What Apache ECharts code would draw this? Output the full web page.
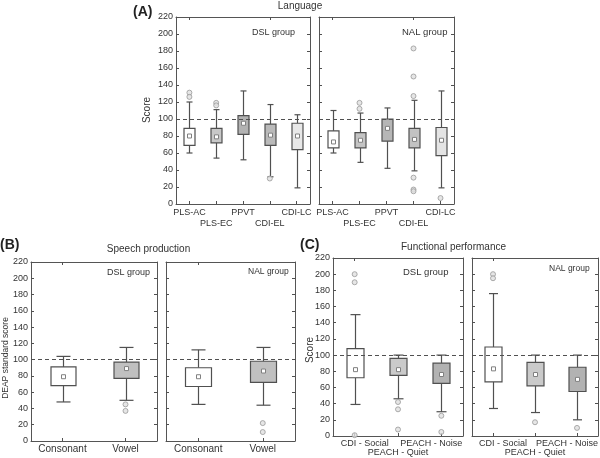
<!DOCTYPE html>
<html><head><meta charset="utf-8">
<script src="https://cdn.jsdelivr.net/npm/echarts@6/dist/echarts.min.js"></script>
<style>html,body{margin:0;padding:0;background:#fff}#c{width:600px;height:458px}</style>
</head><body><div id="c"></div>
<script>
// ---------- DATA ----------
const yMin = 0, yMax = 220, yStep = 20;
const catsA = ['PLS-AC', 'PLS-EC', 'PPVT', 'CDI-EL', 'CDI-LC'];
// [whisker low, Q1, median, Q3, whisker high]
const aDslBoxes = [[60, 69, 80, 89, 120], [54, 72, 79, 89, 111], [52, 82, 95, 104, 133], [32, 69, 81, 94, 117], [19, 64, 80, 95, 105]];
const aDslOutliers = [[0, 131], [0, 126], [1, 119], [1, 116], [3, 30]];
const aNalBoxes = [[60, 66, 73, 86, 110], [49, 66, 75, 84, 107], [42, 74, 89, 100, 113], [39, 66, 76, 89, 122], [19, 57, 75, 90, 133]];
const aNalOutliers = [[1, 119], [1, 112], [3, 183], [3, 150], [3, 127], [3, 31], [3, 17], [3, 15], [4, 7]];

const catsB = ['Consonant', 'Vowel'];
const bDslBoxes = [[48, 68, 79, 91, 104], [50, 77, 89, 97, 115]];
const bDslOutliers = [[1, 45], [1, 37]];
const bNalBoxes = [[45, 67, 79, 90, 112], [44, 72, 86, 98, 115]];
const bNalOutliers = [[1, 22], [1, 11]];

const catsC = ['CDI - Social', 'PEACH - Quiet', 'PEACH - Noise'];
const cDslBoxes = [[39, 72, 82, 108, 150], [46, 75, 82, 96, 100], [30, 65, 76, 90, 100]];
const cDslOutliers = [[0, 200], [0, 190], [0, 1], [1, 42], [1, 33], [1, 8], [2, 25], [2, 5]];
const cNalBoxes = [[34, 67, 83, 110, 176], [29, 62, 76, 91, 100], [20, 55, 70, 85, 100]];
const cNalOutliers = [[0, 200], [0, 195], [1, 17], [2, 10]];

const refLine = 100;

// ---------- STYLE ----------
const FONT = 'Liberation Sans, Arial, sans-serif';
const TXT = '#333';
const LINE = '#505050';
const fillsA1 = ['#ffffff', '#c8c8c8', '#b2b2b2', '#bababa', '#e8e8e8'];
const fillsA2 = ['#ffffff', '#c4c4c4', '#b6b6b6', '#c2c2c2', '#e4e4e4'];
const fillsB = ['#ffffff', '#c0c0c0'];
const fillsC = ['#ffffff', '#cacaca', '#b2b2b2'];

const panels = [
  {grid: {left: 176, top: 17, width: 134, height: 187}, cats: catsA, boxes: aDslBoxes, outs: aDslOutliers, fills: fillsA1, yLab: true, fs: 9, lh: 11, margin: 3, stagger: true, shift: 0},
  {grid: {left: 319, top: 17, width: 135, height: 187}, cats: catsA, boxes: aNalBoxes, outs: aNalOutliers, fills: fillsA2, yLab: false, fs: 9, lh: 11, margin: 3, stagger: true, shift: 0},
  {grid: {left: 31, top: 262, width: 126, height: 179}, cats: catsB, boxes: bDslBoxes, outs: bDslOutliers, fills: fillsB, yLab: true, fs: 10, lh: 12, margin: 2, stagger: false, shift: 0},
  {grid: {left: 166, top: 262, width: 129, height: 179}, cats: catsB, boxes: bNalBoxes, outs: bNalOutliers, fills: fillsB, yLab: false, fs: 10, lh: 12, margin: 2, stagger: false, shift: 0},
  {grid: {left: 333, top: 258, width: 130, height: 178}, cats: catsC, boxes: cDslBoxes, outs: cDslOutliers, fills: fillsC, yLab: true, fs: 9, lh: 9.5, margin: 2.5, stagger: true, shift: 20},
  {grid: {left: 472, top: 258, width: 126, height: 178}, cats: catsC, boxes: cNalBoxes, outs: cNalOutliers, fills: fillsC, yLab: false, fs: 9, lh: 9.5, margin: 2.5, stagger: true, shift: 20}
];

function makeRender(fills) {
  return function (params, api) {
    const ci = api.value(0);
    const lo = api.coord([ci, api.value(1)]);
    const q1 = api.coord([ci, api.value(2)]);
    const md = api.coord([ci, api.value(3)]);
    const q3 = api.coord([ci, api.value(4)]);
    const hi = api.coord([ci, api.value(5)]);
    const band = api.size([1, 0])[0];
    const bw = Math.round(band * 0.4), cw = Math.round(band * 0.22);
    const x = Math.round(lo[0]) + 0.5;
    const st = {stroke: LINE, lineWidth: 1.2};
    return {type: 'group', children: [
      {type: 'line', shape: {x1: x, y1: hi[1], x2: x, y2: q3[1]}, style: st},
      {type: 'line', shape: {x1: x, y1: q1[1], x2: x, y2: lo[1]}, style: st},
      {type: 'line', shape: {x1: x - cw / 2, y1: hi[1], x2: x + cw / 2, y2: hi[1]}, style: st},
      {type: 'line', shape: {x1: x - cw / 2, y1: lo[1], x2: x + cw / 2, y2: lo[1]}, style: st},
      {type: 'rect', shape: {x: x - bw / 2, y: q3[1], width: bw, height: q1[1] - q3[1]}, style: {fill: fills[params.dataIndex], stroke: LINE, lineWidth: 1.2}},
      {type: 'rect', shape: {x: x - 2, y: md[1] - 2, width: 4, height: 4}, style: {fill: '#fff', stroke: '#808080', lineWidth: 1}}
    ]};
  };
}

const grid = [], xAxis = [], yAxis = [], series = [];
panels.forEach(function (p, i) {
  grid.push(Object.assign({containLabel: false, outerBoundsMode: 'none'}, p.grid));
  const tick = {show: true, inside: true, length: 3, alignWithLabel: true, lineStyle: {color: LINE}};
  const axl = {show: true, onZero: false, lineStyle: {color: '#555', width: 1}};
  const base = {fontFamily: FONT, fontSize: p.fs, color: TXT, lineHeight: p.lh};
  const n = p.cats.length;
  xAxis.push({type: 'category', gridIndex: i, position: 'bottom', data: p.cats, boundaryGap: true,
    axisLine: axl, axisTick: tick, splitLine: {show: false},
    axisLabel: {interval: 0, margin: p.margin, color: TXT, fontFamily: FONT, fontSize: p.fs, lineHeight: p.lh, verticalAlign: 'top',
      hideOverlap: false,
      rich: {
        m: base,
        l: Object.assign({padding: [0, 0, 0, p.shift]}, base),
        r: Object.assign({padding: [0, p.shift, 0, 0]}, base)
      },
      formatter: function (v, idx) {
        let key = 'm';
        if (p.shift && idx === 0) key = 'l';
        if (p.shift && idx === n - 1) key = 'r';
        const t = '{' + key + '|' + v + '}';
        return (p.stagger && idx % 2 === 1) ? '\n' + t : t;
      }}});
  xAxis.push({type: 'category', gridIndex: i, position: 'top', data: p.cats, boundaryGap: true,
    axisLine: axl, axisTick: tick, axisLabel: {show: false}, splitLine: {show: false}});
  const ytick = {show: true, inside: true, length: 3, lineStyle: {color: LINE}};
  yAxis.push({type: 'value', gridIndex: i, position: 'left', min: yMin, max: yMax, interval: yStep,
    axisLine: axl, axisTick: ytick, splitLine: {show: false},
    axisLabel: {show: p.yLab, margin: 3, color: TXT, fontFamily: FONT, fontSize: 9}});
  yAxis.push({type: 'value', gridIndex: i, position: 'right', min: yMin, max: yMax, interval: yStep,
    axisLine: axl, axisTick: ytick, splitLine: {show: false}, axisLabel: {show: false}});
  series.push({type: 'custom', xAxisIndex: 2 * i, yAxisIndex: 2 * i, renderItem: makeRender(p.fills),
    encode: {x: 0, y: [1, 2, 3, 4, 5]},
    data: p.boxes.map(function (b, k) { return [k].concat(b); }), z: 3});
  series.push({type: 'scatter', xAxisIndex: 2 * i, yAxisIndex: 2 * i, data: p.outs,
    symbol: 'circle', symbolSize: 5, z: 4,
    itemStyle: {color: '#e0e0e0', borderColor: '#999', borderWidth: 1},
    markLine: {silent: true, symbol: 'none', label: {show: false}, animation: false,
      lineStyle: {type: [4, 3], color: '#505050', width: 1}, data: [{yAxis: refLine}]}});
});

function txt(x, y, s, o) {
  return Object.assign({type: 'text', x: x, y: y, style: Object.assign({text: s, fill: TXT, font: '10px ' + FONT, textAlign: 'left', textVerticalAlign: 'middle'}, o || {})});
}
const graphic = [
  txt(133, 12, '(A)', {font: 'bold 14px ' + FONT, fill: '#222'}),
  txt(300, 6, 'Language', {textAlign: 'center'}),
  txt(0, 245, '(B)', {font: 'bold 14px ' + FONT, fill: '#222'}),
  txt(148.5, 249, 'Speech production', {textAlign: 'center'}),
  txt(300, 245, '(C)', {font: 'bold 14px ' + FONT, fill: '#222'}),
  txt(453.5, 247, 'Functional performance', {textAlign: 'center'}),
  txt(252, 33, 'DSL group', {font: '9px ' + FONT}),
  txt(402, 32, 'NAL group', {font: '9.5px ' + FONT}),
  txt(107, 273, 'DSL group', {font: '9px ' + FONT}),
  txt(248, 272, 'NAL group', {font: '8.5px ' + FONT}),
  txt(403, 272, 'DSL group', {font: '9.5px ' + FONT}),
  txt(549, 269, 'NAL group', {font: '8.5px ' + FONT}),
  Object.assign(txt(147, 110, 'Score', {textAlign: 'center', font: '10px ' + FONT}), {rotation: Math.PI / 2}),
  Object.assign(txt(6, 358, 'DEAP standard score', {textAlign: 'center', font: '8.5px ' + FONT}), {rotation: Math.PI / 2}),
  Object.assign(txt(310, 350, 'Score', {textAlign: 'center', font: '10px ' + FONT}), {rotation: Math.PI / 2})
];

const chart = echarts.init(document.getElementById('c'), null, {renderer: 'canvas'});
chart.setOption({animation: false, grid: grid, xAxis: xAxis, yAxis: yAxis, series: series, graphic: graphic});
</script></body></html>
